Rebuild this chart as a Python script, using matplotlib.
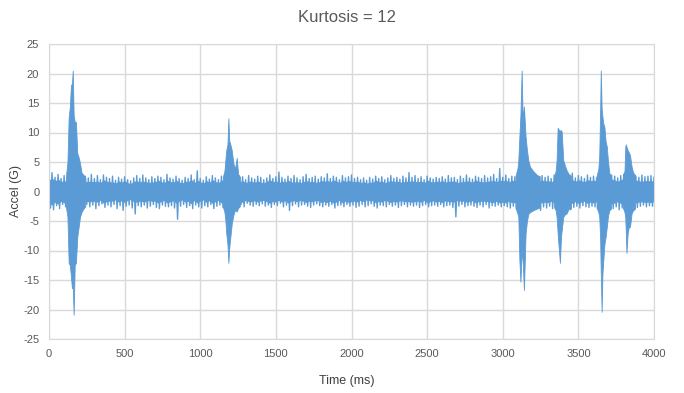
import numpy as np
import matplotlib
matplotlib.use("Agg")
import matplotlib.pyplot as plt

plt.rcParams['font.family'] = ['Liberation Sans', 'DejaVu Sans']
plt.rcParams['axes.unicode_minus'] = False

# baseline vibration envelope, read every 20 ms (0..4000 ms)
base_t = np.arange(0, 4001, 20)
base_hi = [
    2.6, 3.2, 2.4, 2.9, 2.2, 2.7, 2.0, 2.5, 2.8, 2.3,
    2.1, 1.9, 2.6, 2.3, 2.9, 2.2, 2.7, 2.0, 2.8, 2.4,
    2.2, 2.6, 1.9, 2.4, 2.1, 2.5, 2.0, 1.8, 2.3, 2.7,
    2.2, 2.8, 2.3, 2.0, 2.5, 2.2, 2.6, 2.4, 2.0, 2.9,
    2.3, 2.1, 2.6, 2.2, 1.9, 2.4, 2.2, 2.8, 2.0, 3.5,
    2.2, 1.9, 2.5, 2.1, 2.7, 2.3, 2.0, 2.6, 2.4, 3.0,
    2.6, 2.3, 2.8, 2.2, 2.5, 2.0, 2.7, 2.3, 2.1, 2.6,
    2.4, 2.0, 2.3, 2.8, 2.2, 2.5, 3.3, 2.4, 2.1, 2.6,
    2.2, 2.7, 2.3, 2.0, 2.5, 2.9, 2.2, 2.4, 2.6, 2.1,
    2.5, 2.3, 3.0, 2.2, 2.6, 2.4, 2.0, 2.7, 2.3, 2.5,
    2.8, 2.2, 2.4, 2.0, 2.3, 1.9, 2.4, 2.1, 2.6, 2.2,
    2.5, 2.0, 2.3, 2.7, 2.2, 2.4, 2.1, 2.6, 2.3, 3.2,
    2.4, 2.7, 2.2, 2.5, 2.0, 2.6, 2.3, 2.1, 2.4, 2.2,
    2.5, 2.1, 2.7, 2.3, 2.4, 2.0, 2.6, 2.2, 2.8, 2.3,
    2.1, 2.6, 2.4, 2.2, 2.7, 2.3, 2.5, 2.9, 2.2, 3.9,
    2.4, 2.8, 2.2, 2.6, 2.5, 2.7, 2.3, 2.9, 3.2, 2.8,
    2.5, 2.9, 2.3, 2.7, 2.4, 2.6, 2.2, 2.8, 2.5, 2.7,
    2.9, 2.4, 2.6, 3.1, 2.3, 2.7, 2.5, 2.2, 2.8, 2.4,
    2.6, 2.3, 2.9, 2.5, 2.7, 2.4, 2.8, 2.6, 2.3, 2.7,
    2.9, 2.5, 2.7, 3.0, 2.6, 2.4, 2.8, 2.5, 2.6, 2.7,
    2.4,
]
base_lo = [
    -2.8, -3.1, -2.4, -2.9, -2.2, -2.6, -3.0, -2.5, -2.7, -2.3,
    -2.5, -2.8, -2.2, -2.6, -2.3, -2.9, -2.4, -2.1, -2.7, -2.3,
    -2.6, -2.2, -2.9, -2.4, -3.2, -2.5, -2.3, -2.8, -3.8, -2.4,
    -2.6, -2.3, -2.8, -2.5, -2.2, -2.7, -2.9, -2.3, -2.5, -2.6,
    -2.4, -2.8, -4.7, -2.5, -2.2, -2.7, -2.4, -2.9, -2.3, -2.6,
    -2.8, -2.4, -2.6, -2.2, -2.9, -2.5, -2.3, -2.7, -2.6, -2.9,
    -3.0, -2.6, -2.4, -2.2, -2.6, -2.0, -2.3, -2.5, -2.2, -2.4,
    -2.1, -2.5, -2.3, -2.7, -2.2, -2.4, -2.0, -2.6, -2.3, -3.2,
    -2.4, -2.1, -2.6, -2.3, -2.2, -2.5, -2.7, -2.3, -2.1, -2.4,
    -2.6, -2.3, -2.5, -2.2, -2.8, -2.4, -2.3, -2.6, -2.2, -2.5,
    -2.3, -2.7, -2.5, -2.2, -2.6, -2.4, -2.1, -2.5, -2.8, -2.3,
    -2.4, -2.6, -2.2, -2.5, -2.3, -2.7, -2.4, -2.2, -2.6, -2.3,
    -2.5, -2.3, -2.7, -2.4, -2.2, -2.6, -2.4, -2.3, -2.5, -2.2,
    -2.6, -2.4, -2.3, -2.7, -4.3, -2.5, -2.2, -2.6, -2.4, -2.3,
    -2.5, -2.7, -2.3, -2.6, -2.2, -2.8, -2.4, -2.5, -2.3, -2.6,
    -2.4, -2.6, -2.8, -2.5, -2.9, -3.1, -2.7, -2.6, -3.0, -3.2,
    -3.0, -2.7, -3.2, -2.6, -2.8, -2.5, -2.9, -2.6, -2.7, -2.8,
    -3.4, -2.9, -3.1, -2.7, -2.5, -2.8, -2.4, -2.6, -2.7, -2.5,
    -2.6, -2.8, -2.4, -3.0, -2.7, -2.5, -2.9, -2.6, -3.1, -2.8,
    -3.0, -2.6, -2.8, -2.4, -2.7, -2.5, -2.3, -2.6, -2.4, -2.5,
    -2.3,
]

# impact bursts: (time ms, upper envelope, lower envelope)
burst1_t = [112, 122, 130, 138, 145, 152, 157, 163, 170, 178, 187, 196, 205, 215, 228, 240]
burst1_hi = [2.5, 5.0, 12.5, 14.4, 18.0, 18.3, 20.5, 13.0, 11.8, 11.8, 6.5, 5.8, 4.8, 3.2, 2.8, 2.4]
burst1_lo = [-2.6, -4.3, -12.1, -12.5, -14.4, -16.4, -16.0, -20.9, -12.5, -12.1, -7.7, -6.0, -4.3, -3.5, -2.9, -2.5]

burst2_t = [1150, 1160, 1166, 1172, 1180, 1186, 1192, 1197, 1208, 1219, 1230, 1241, 1250, 1262]
burst2_hi = [2.5, 3.5, 5.3, 7.0, 8.0, 12.4, 8.5, 8.2, 7.0, 4.8, 3.8, 5.7, 3.0, 2.5]
burst2_lo = [-2.6, -3.5, -4.8, -7.1, -9.0, -12.1, -9.5, -8.2, -5.5, -4.0, -3.1, -3.4, -2.8, -2.5]

burst3_t = [3085, 3098, 3103, 3110, 3117, 3125, 3132, 3140, 3151, 3160, 3169, 3180, 3200, 3225, 3245]
burst3_hi = [2.7, 4.0, 5.3, 9.3, 13.0, 20.5, 12.0, 14.4, 9.3, 7.0, 5.3, 4.2, 3.5, 2.8, 2.6]
burst3_lo = [-2.8, -3.8, -4.3, -11.6, -15.3, -9.9, -12.0, -16.7, -7.1, -5.0, -3.8, -3.5, -3.2, -2.9, -2.7]

burst4_t = [3340, 3350, 3356, 3363, 3370, 3378, 3385, 3390, 3400, 3410, 3422, 3435, 3450]
burst4_hi = [2.6, 3.5, 5.3, 10.8, 10.5, 10.3, 10.4, 10.1, 5.3, 4.5, 3.6, 3.0, 2.7]
burst4_lo = [-2.7, -3.2, -4.3, -7.1, -9.5, -12.1, -7.7, -6.5, -4.3, -3.9, -3.7, -3.0, -2.8]

burst5_t = [3620, 3632, 3638, 3644, 3648, 3654, 3659, 3665, 3672, 3680, 3688, 3696, 3705, 3715]
burst5_hi = [2.6, 3.8, 6.0, 13.8, 20.5, 14.0, 12.7, 11.5, 11.0, 8.5, 7.6, 5.0, 3.1, 2.7]
burst5_lo = [-2.7, -3.5, -4.3, -8.0, -13.8, -20.4, -14.0, -11.6, -9.0, -7.7, -6.0, -4.1, -3.2, -2.9]

burst6_t = [3795, 3805, 3810, 3813, 3818, 3826, 3834, 3841, 3852, 3862, 3875]
burst6_hi = [2.8, 3.5, 7.5, 8.0, 7.6, 7.0, 6.6, 6.2, 4.2, 3.2, 2.8]
burst6_lo = [-2.8, -3.5, -4.3, -6.5, -10.4, -7.0, -6.0, -6.0, -3.7, -3.2, -2.9]

x_ticks = np.arange(0, 4001, 500)
y_ticks = np.arange(-25, 26, 5)

blue = '#5B9BD5'
grey_txt = '#595959'

fig = plt.figure(figsize=(6.84, 3.93), dpi=100)
ax = fig.add_axes([49 / 684, 1 - 339 / 393, 605 / 684, 295 / 393])

# baseline drawn as an oscillating trace: each upper reading followed by its lower reading
zig_t = np.column_stack([base_t, base_t + 10]).ravel()[:-1]
zig_v = np.column_stack([base_hi, base_lo]).ravel()[:-1]
ax.plot(zig_t, zig_v, color=blue, lw=1.0)
core = 0.75 * np.minimum(np.array(base_hi), -np.array(base_lo))
ax.fill_between(base_t, -core, core, color=blue, lw=0)

bursts = [(burst1_t, burst1_hi, burst1_lo), (burst2_t, burst2_hi, burst2_lo),
          (burst3_t, burst3_hi, burst3_lo), (burst4_t, burst4_hi, burst4_lo),
          (burst5_t, burst5_hi, burst5_lo), (burst6_t, burst6_hi, burst6_lo)]
for bt, bh, bl in bursts:
    ax.fill_between(bt, bl, bh, color=blue, lw=0.6, edgecolor=blue)

ax.set_xlim(0, 4000)
ax.set_ylim(-25, 25)
ax.set_xticks(x_ticks)
ax.set_yticks(y_ticks)
ax.grid(True, color='#D9D9D9', lw=1.0)
ax.set_axisbelow(True)
for s in ax.spines.values():
    s.set_color('#D9D9D9')
ax.tick_params(length=0, labelsize=8, labelcolor=grey_txt, pad=7)

fig.text(347 / 684, 1 - 18 / 393, 'Kurtosis = 12', ha='center', va='center',
         fontsize=12, color=grey_txt)
fig.text(347 / 684, 1 - 381 / 393, 'Time (ms)', ha='center', va='center',
         fontsize=9, color='#404040')
fig.text(16 / 684, 1 - 191 / 393, 'Accel (G)', ha='center', va='center',
         rotation=90, fontsize=9, color='#404040')

fig.savefig('out.png', dpi=100)
